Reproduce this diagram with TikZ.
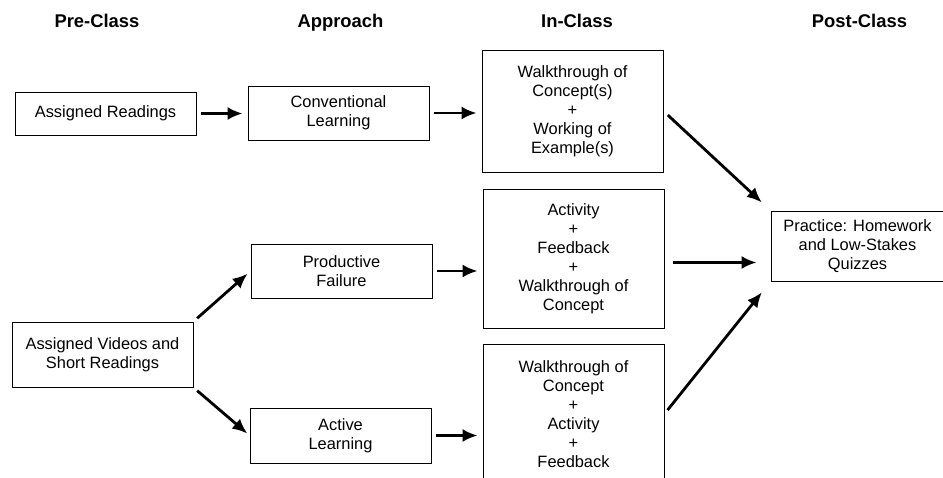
\documentclass[tikz,border=0pt]{standalone}
\usepackage{fontspec}
\setmainfont{Liberation Sans}
\usetikzlibrary{arrows.meta}

\tikzset{
  box/.style={draw, line width=0.8pt, align=center, inner sep=0pt,
    minimum width=181pt, font=\fontsize{16.4}{19}\selectfont},
  head/.style={anchor=base, font=\fontsize{18.4}{22}\selectfont\bfseries},
}

\begin{document}
\begin{tikzpicture}[x=1pt, y=-1pt, >={Latex[length=15pt,width=13pt]}, ->]
    \path[use as bounding box, clip] (0,0) rectangle (943,478);

    \node[head](h0) at (97,28) {Pre-Class};
    \node[head](h1) at (340.5,28) {Approach};
    \node[head](h2) at (577,28) {In-Class};
    \node[head](h3) at (859.5,28) {Post-Class};

    \node[box, minimum height=43pt](a1) at (105.5,113.5) {Assigned Readings};
    \node[box, minimum height=65pt](a2) at (102.5,354.5) {Assigned Videos and\\Short Readings};
    \node[box, minimum height=54pt](b1) at (338.5,113) {Conventional\\Learning};
    \node[box, minimum height=54pt](b2) at (341.5,271) {Productive\\Failure};
    \node[box, minimum height=55pt](b3) at (340.5,435.5) {Active\\Learning};
    \node[box, minimum height=122pt](c1) at (572.5,111) {Walkthrough of\\Concept(s)\\+\\Working of\\Example(s)};
    \node[box, minimum height=139pt](c2) at (573.5,258.5) {Activity\\+\\Feedback\\+\\Walkthrough of\\Concept};
    \node[box, minimum height=140pt](c3) at (573.5,414) {Walkthrough of\\Concept\\+\\Activity\\+\\Feedback};
    \node[box, minimum width=173pt, minimum height=70pt](d) at (857.5,246) {Practice: Homework\\and Low-Stakes\\Quizzes};

    \begin{scope}[line width=2.8pt]
    \foreach \k/\l in {a1/b1, b1/c1, b2/c2, b3/c3}{\draw[shorten <=5pt, shorten >=5pt](\k)--(\k -| \l.west);}
    \draw[shorten <=5pt, shorten >=4pt](a2.north east)--(b2.west);
    \draw[shorten <=5pt, shorten >=3pt](a2.south east)--(b3.west);
    \draw[shorten <=6pt, shorten >=12pt](c1.east)--(d.north west);
    \draw[shorten <=9pt, shorten >=14pt]([yshift=-4pt]c2.east)--([yshift=-4pt]c2.east -| d.west);
    \draw[shorten <=5pt, shorten >=14pt](c3.east)--(d.south west);
    \end{scope}
\end{tikzpicture}
\end{document}
